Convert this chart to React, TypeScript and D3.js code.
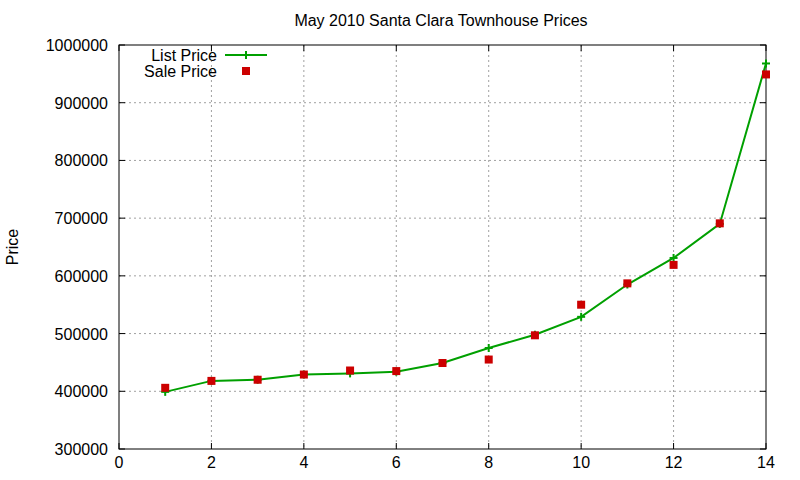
import React from "react";
import { scaleLinear, line } from "d3";

// values
const xs = [1, 2, 3, 4, 5, 6, 7, 8, 9, 10, 11, 12, 13, 14];
const listPrice = [399000, 418000, 420000, 429000, 431000, 434000, 449000, 475000, 498000, 529000, 585000, 631000, 690000, 968000];
const salePrice = [406000, 418000, 420000, 429000, 436000, 435000, 449000, 455000, 497000, 550000, 587000, 619000, 691000, 949000];
const xTicks = [0, 2, 4, 6, 8, 10, 12, 14];
const yTicks = [300000, 400000, 500000, 600000, 700000, 800000, 900000, 1000000];

const W = 800;
const H = 480;
const left = 119;
const right = 766;
const top = 45;
const bottom = 449;
const font = "Liberation Sans, Arial, sans-serif";
const fs = 16;

export default function App() {
  const x = scaleLinear().domain([0, 14]).range([left, right]);
  const y = scaleLinear().domain([300000, 1000000]).range([bottom, top]);

  const listLine = line<number>()
    .x((_, i) => x(xs[i]))
    .y((d) => y(d));

  return (
    <svg
      width={W}
      height={H}
      style={{ position: "absolute", left: 0, top: 0, background: "#fff" }}
      fontFamily={font}
    >
      <rect x={0} y={0} width={W} height={H} fill="#fff" />

      {/* grid */}
      {xTicks.slice(1, -1).map((t) => (
        <line key={`gx${t}`} x1={x(t)} x2={x(t)} y1={top} y2={bottom}
          stroke="#a0a0a0" strokeDasharray="2,3" />
      ))}
      {yTicks.slice(1, -1).map((t) => (
        <line key={`gy${t}`} x1={left} x2={right} y1={y(t)} y2={y(t)}
          stroke="#a0a0a0" strokeDasharray="2,3" />
      ))}

      {/* ticks, mirrored */}
      {xTicks.map((t) => (
        <g key={`tx${t}`}>
          <line x1={x(t)} x2={x(t)} y1={bottom} y2={bottom - 6} stroke="#000" />
          <line x1={x(t)} x2={x(t)} y1={top} y2={top + 6} stroke="#000" />
          <text x={x(t)} y={bottom + 19} textAnchor="middle" fontSize={fs} fill="#000">{t}</text>
        </g>
      ))}
      {yTicks.map((t) => (
        <g key={`ty${t}`}>
          <line x1={left} x2={left + 6} y1={y(t)} y2={y(t)} stroke="#000" />
          <line x1={right} x2={right - 6} y1={y(t)} y2={y(t)} stroke="#000" />
          <text x={108} y={y(t) + 6} textAnchor="end" fontSize={fs} fill="#000">{t}</text>
        </g>
      ))}

      {/* border */}
      <rect x={left} y={top} width={right - left} height={bottom - top} fill="none" stroke="#000" />

      {/* title and axis label */}
      <text x={441} y={26} textAnchor="middle" fontSize={fs} fill="#000">
        May 2010 Santa Clara Townhouse Prices
      </text>
      <text transform={`translate(18, ${(top + bottom) / 2}) rotate(-90)`} textAnchor="middle" fontSize={fs} fill="#000">
        Price
      </text>

      {/* list price line */}
      <path d={listLine(listPrice) ?? ""} fill="none" stroke="#00a000" strokeWidth={2} />
      {listPrice.map((v, i) => (
        <g key={`lp${i}`} stroke="#00a000" strokeWidth={2}>
          <line x1={x(xs[i]) - 4} x2={x(xs[i]) + 4} y1={y(v)} y2={y(v)} />
          <line x1={x(xs[i])} x2={x(xs[i])} y1={y(v) - 4} y2={y(v) + 4} />
        </g>
      ))}

      {/* sale price squares */}
      {salePrice.map((v, i) => (
        <rect key={`sp${i}`} x={x(xs[i]) - 4} y={y(v) - 4} width={8} height={8} fill="#cc0000" />
      ))}

      {/* legend */}
      <text x={217} y={61} textAnchor="end" fontSize={fs} fill="#000">List Price</text>
      <line x1={225} x2={267} y1={55} y2={55} stroke="#00a000" strokeWidth={2} />
      <line x1={242} x2={250} y1={55} y2={55} stroke="#00a000" strokeWidth={2} />
      <line x1={246} x2={246} y1={51} y2={59} stroke="#00a000" strokeWidth={2} />
      <text x={217} y={77} textAnchor="end" fontSize={fs} fill="#000">Sale Price</text>
      <rect x={242} y={67} width={8} height={8} fill="#cc0000" />
    </svg>
  );
}
